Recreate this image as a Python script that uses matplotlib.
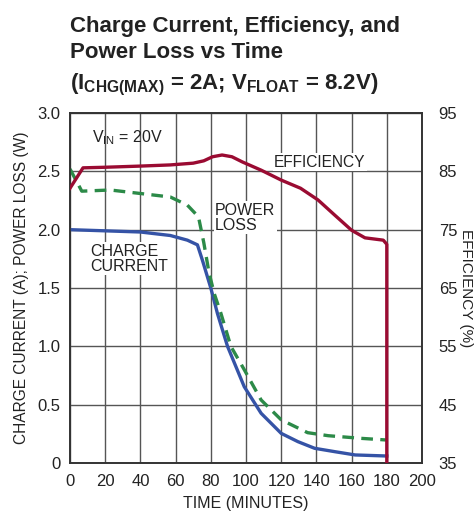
import matplotlib
matplotlib.use("Agg")
import matplotlib.pyplot as plt
from matplotlib import font_manager

# pick a narrow font if present
names = {f.name for f in font_manager.fontManager.ttflist}
FONT = "Liberation Sans Narrow" if "Liberation Sans Narrow" in names else "Liberation Sans"
plt.rcParams["font.family"] = [FONT, "DejaVu Sans"]
plt.rcParams["mathtext.fontset"] = "custom"
plt.rcParams["mathtext.rm"] = FONT
plt.rcParams["mathtext.it"] = FONT
plt.rcParams["mathtext.bf"] = FONT + ":bold"

# data
eff_t = [0, 7.4, 20, 40, 57, 70, 76, 81, 86.4, 92, 98, 108.6, 120, 131, 140.9, 150.4, 160, 167.6, 178, 180, 180]
eff_pct = [82.1, 85.6, 85.7, 85.9, 86.1, 86.4, 86.8, 87.5, 87.8, 87.5, 86.6, 85.2, 83.5, 82.1, 80.1, 77.5, 74.9, 73.6, 73.2, 72.5, 35]

loss_t = [0, 6.7, 22.9, 40, 57, 66.7, 73, 76, 79, 82, 85.7, 91.4, 99, 108.6, 120, 135, 146.7, 165.7, 180]
loss_w = [2.52, 2.33, 2.34, 2.31, 2.28, 2.21, 2.11, 1.89, 1.63, 1.45, 1.285, 1.0, 0.8, 0.54, 0.37, 0.26, 0.234, 0.211, 0.197]

chg_t = [0, 40, 57, 66.7, 72.4, 75.2, 78, 80, 83.8, 89.5, 99, 108.6, 120, 129.5, 139, 150.5, 162, 180]
chg_a = [2.0, 1.98, 1.95, 1.91, 1.87, 1.74, 1.6, 1.5, 1.28, 1.0, 0.654, 0.426, 0.254, 0.183, 0.126, 0.097, 0.069, 0.06]

x_ticks = list(range(0, 201, 20))
y_ticks = [0, 0.5, 1.0, 1.5, 2.0, 2.5, 3.0]
y_labels = ["0", "0.5", "1.0", "1.5", "2.0", "2.5", "3.0"]
eff_ticks = [35, 45, 55, 65, 75, 85, 95]

RED = "#9a0b32"
GREEN = "#2c8a48"
BLUE = "#3553a6"
INK = "#222222"

fig = plt.figure(figsize=(4.77, 5.19), dpi=100)
ax = fig.add_axes([70 / 477, 56 / 519, 352 / 477, 350 / 519])
ax2 = ax.twinx()

ax.set_xlim(0, 200)
ax.set_ylim(0, 3.0)
ax2.set_ylim(35, 95)

ax.set_xticks(x_ticks)
ax.set_yticks(y_ticks)
ax.set_yticklabels(y_labels)
ax2.set_yticks(eff_ticks)
ax.grid(True, color="#555555", linewidth=1.0)
ax.set_axisbelow(True)
ax.tick_params(axis="x", length=0, labelsize=12, pad=8, colors=INK)
ax.tick_params(axis="y", length=0, labelsize=12, pad=7, colors=INK)
ax2.tick_params(axis="y", length=0, labelsize=12, pad=12, colors=INK)
for a in (ax, ax2):
    for s in a.spines.values():
        s.set_color("#333333")
        s.set_linewidth(1.2)

ax.plot(chg_t, chg_a, color=BLUE, lw=2.4, zorder=3)
ax.plot(loss_t, loss_w, color=GREEN, lw=2.4, ls=(0, (3.5, 2.2)), zorder=3)
ax2.plot(eff_t, eff_pct, color=RED, lw=2.4, zorder=3)

ax.set_xlabel("TIME (MINUTES)", fontsize=11.5, color=INK, labelpad=5)
ax.set_ylabel("CHARGE CURRENT (A); POWER LOSS (W)", fontsize=11.2, color=INK, labelpad=6)
ax2.set_ylabel("EFFICIENCY (%)", fontsize=11, color=INK, rotation=-90,
               va="center", ha="center")
ax2.yaxis.set_label_coords(1.125, 0.5)

box = dict(facecolor="white", edgecolor="none", pad=1)
ax.text(12.5, 2.75, r"V$_{\mathrm{IN}}$ = 20V", fontsize=11.5, color=INK, va="baseline")
ax.text(116, 2.54, "EFFICIENCY", fontsize=11.2, color=INK, va="baseline", bbox=box)
ax.text(82.4, 2.23, "POWER\nLOSS", fontsize=11.5, color=INK, linespacing=1.0, va="top", bbox=box)
ax.text(11.4, 1.88, "CHARGE\nCURRENT", fontsize=11.5, color=INK, linespacing=1.0, va="top", bbox=box)

title_lines = [
    "Charge Current, Efficiency, and",
    "Power Loss vs Time",
    r"($\mathbf{I_{CHG(MAX)}}$ = 2A; $\mathbf{V_{FLOAT}}$ = 8.2V)",
]
for line, base in zip(title_lines, [32, 58, 89]):
    fig.text(70 / 477, 1 - base / 519, line, fontsize=16, fontweight="bold",
             color=INK, va="baseline")

fig.savefig("out.png", dpi=100)
